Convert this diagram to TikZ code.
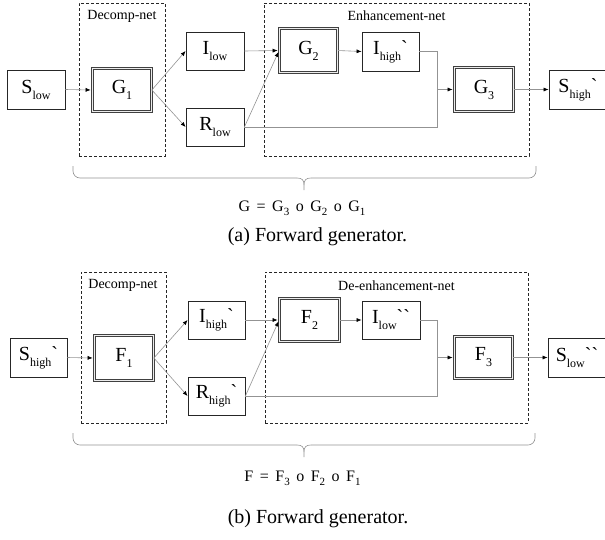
\documentclass[tikz,border=0pt]{standalone}
\usepackage{fontspec}
\setmainfont{Liberation Serif}
\newfontfamily\gravefont[Ligatures=TeXOff]{Liberation Serif}
\usetikzlibrary{arrows.meta}
\newcommand\sbs[1]{\raisebox{-0.3em}{\fontsize{12}{12}\selectfont #1}}
\newcommand\fsb[1]{\raisebox{-0.3em}{\fontsize{11}{11}\selectfont #1}}
\newcommand\grv{{\gravefont`}}
\newcommand\hsp{\hspace{6.5pt}}
\tikzset{
  pbox/.style={draw=black!85, line width=0.8pt, inner sep=0pt, font=\fontsize{20}{20}\selectfont},
  dbox/.style={draw=black!75, double=gray!15, double distance=1.8pt, line width=0.7pt, inner sep=0pt, font=\fontsize{20}{20}\selectfont},
  dashbox/.style={draw=black!85, dash pattern=on 3pt off 2pt, line width=0.7pt, inner sep=0pt},
  lbl/.style={font=\fontsize{14}{14}\selectfont, inner sep=0pt},
  conn/.style={draw=gray!85, line width=0.6pt},
  arr/.style={conn, -{Latex[length=5pt,width=4pt,color=black]}},
  darr/.style={arr, shorten >=1.5pt},
  bracestyle/.style={draw=gray!85, line width=0.6pt},
  fml/.style={font=\fontsize{16}{16}\selectfont, anchor=base, inner sep=0pt},
  captext/.style={font=\fontsize{20}{20}\selectfont, anchor=base, inner sep=0pt}
}
\begin{document}
\begin{tikzpicture}[x=1pt,y=-1pt]
\clip (0,0) rectangle (605,539);
\useasboundingbox (0,0) rectangle (605,539);
% ---------------- top diagram ----------------
\node[dashbox, minimum width=86, minimum height=153] (dec1) at (122,79.5) {};
\node[lbl] (dec1l) at (122,16) {Decomp-net};
\node[dashbox, minimum width=265, minimum height=153] (enh1) at (396.5,79.5) {};
\node[lbl] (enh1l) at (396.5,16) {Enhancement-net};
\node[pbox, minimum width=58, minimum height=39] (slow) at (36,89.5) {S\sbs{low}};
\node[dbox, minimum width=59, minimum height=43] (g1) at (122,90) {G\sbs{1}};
\node[pbox, minimum width=58, minimum height=38] (ilow) at (215,51) {I\sbs{low}};
\node[pbox, minimum width=58, minimum height=38] (rlow) at (215,127) {R\sbs{low}};
\node[dbox, minimum width=58, minimum height=44] (g2) at (308.5,50.5) {G\sbs{2}};
\node[pbox, minimum width=57, minimum height=39] (ihigh) at (390.5,51.5) {I\sbs{high}\grv};
\node[dbox, minimum width=59, minimum height=44] (g3) at (484,89.5) {G\sbs{3}};
\node[pbox, minimum width=58, minimum height=39] (shigh) at (578,89.5) {S\sbs{high}\grv};
\coordinate (m1) at (437,89.5);
\draw[darr] (slow.east) -- (g1.west);
\draw[arr] (g1.east) -- (ilow.west);
\draw[arr] (g1.east) -- (rlow.west);
\draw[darr] (ilow.east) -- (g2.west);
\draw[darr] (rlow.east) -- (g2.west);
\draw[arr] (g2.east) -- (ihigh.west);
\draw[conn] (rlow.east) -| (m1);
\draw[darr] (ihigh.east) -| (m1) -- (g3.west);
\draw[arr] (g3.east) -- (shigh.west);
% brace
\draw[bracestyle, rounded corners=7pt] (73,166) |- (297,178);
\draw[bracestyle] (297,178) .. controls (302,178) and (304,180) .. (304,185) -- (304,190);
\draw[bracestyle] (304,185) .. controls (304,180) and (306,178) .. (311,178);
\draw[bracestyle, rounded corners=7pt] (311,178) -| (536,166);
\node[fml] (form1) at (302,211) {G\hsp=\hsp G\fsb{3}\hsp o\hsp G\fsb{2}\hsp o\hsp G\fsb{1}};
\node[captext] (cap1) at (317.5,241) {(a) Forward generator.};
% ---------------- bottom diagram ----------------
\node[dashbox, minimum width=85, minimum height=151] (dec2) at (123.5,347.5) {};
\node[lbl] (dec2l) at (123,285) {Decomp-net};
\node[dashbox, minimum width=263, minimum height=151] (enh2) at (396.5,347.5) {};
\node[lbl] (enh2l) at (396.5,286) {De-enhancement-net};
\node[pbox, minimum width=57, minimum height=39] (shigh2) at (38.5,357.5) {S\sbs{high}\grv};
\node[dbox, minimum width=59, minimum height=45] (f1) at (124,358) {F\sbs{1}};
\node[pbox, minimum width=57, minimum height=38] (ihigh2) at (216.5,320) {I\sbs{high}\grv};
\node[pbox, minimum width=57, minimum height=38] (rhigh2) at (216.5,396) {R\sbs{high}\grv};
\node[dbox, minimum width=60, minimum height=43] (f2) at (309.5,320) {F\sbs{2}};
\node[pbox, minimum width=58, minimum height=38] (ilow2) at (391,320) {I\sbs{low}\grv\grv};
\node[dbox, minimum width=58, minimum height=42] (f3) at (483.5,357.5) {F\sbs{3}};
\node[pbox, minimum width=58, minimum height=39] (slow2) at (577,357.5) {S\sbs{low}\grv\grv};
\coordinate (m2) at (437,357.5);
\draw[darr] (shigh2.east) -- (f1.west);
\draw[arr] (f1.east) -- (ihigh2.west);
\draw[arr] (f1.east) -- (rhigh2.west);
\draw[darr] (ihigh2.east) -- (f2.west);
\draw[darr] (rhigh2.east) -- (f2.west);
\draw[arr] (f2.east) -- (ilow2.west);
\draw[conn] (rhigh2.east) -| (m2);
\draw[darr] (ilow2.east) -| (m2) -- (f3.west);
\draw[arr] (f3.east) -- (slow2.west);
% brace
\draw[bracestyle, rounded corners=7pt] (73,433) |- (297,445);
\draw[bracestyle] (297,445) .. controls (302,445) and (304,447) .. (304,452) -- (304,457);
\draw[bracestyle] (304,452) .. controls (304,447) and (306,445) .. (311,445);
\draw[bracestyle, rounded corners=7pt] (311,445) -| (535,433);
\node[fml] (form2) at (302.5,481) {F\hsp=\hsp F\fsb{3}\hsp o\hsp F\fsb{2}\hsp o\hsp F\fsb{1}};
\node[captext] (cap2) at (318,523) {(b) Forward generator.};
\end{tikzpicture}
\end{document}
